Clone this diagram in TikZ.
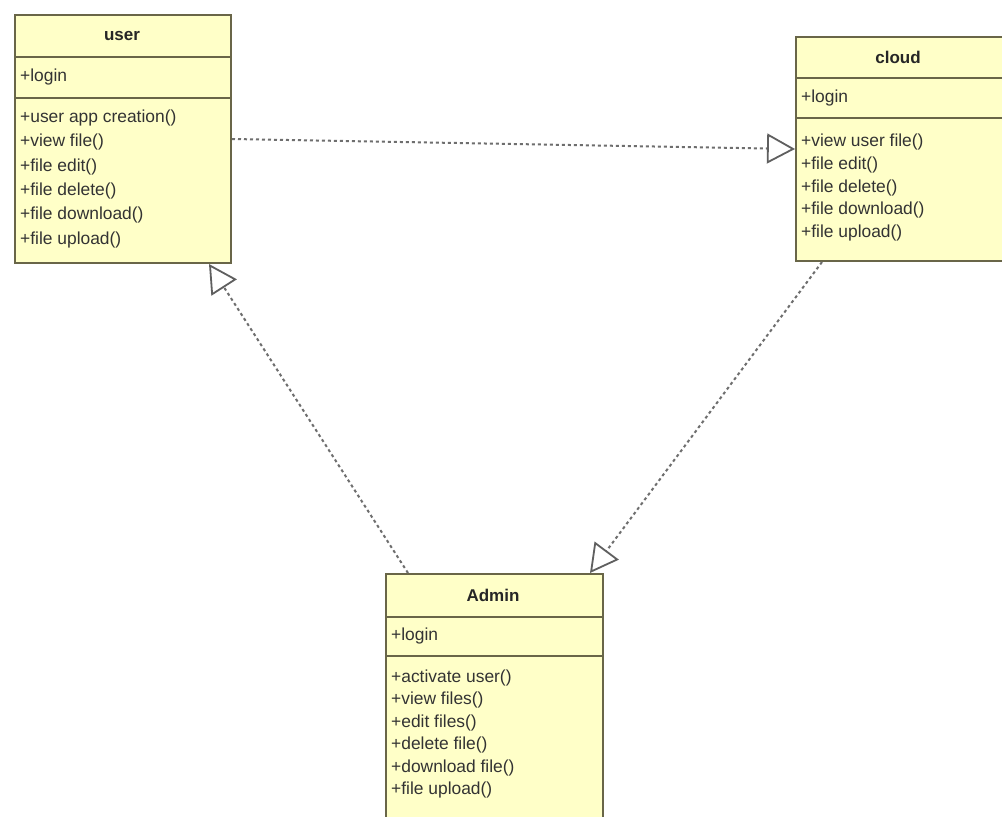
\documentclass[tikz,border=0pt]{standalone}
\usepackage{fontspec}
\setmainfont{Liberation Sans}
\usetikzlibrary{arrows.meta,calc}
\definecolor{classfill}{RGB}{255,255,200}
\definecolor{classline}{RGB}{105,102,72}
\definecolor{linkline}{RGB}{110,110,110}
\definecolor{tipline}{RGB}{95,95,95}
\begin{document}
\begin{tikzpicture}[x=1pt,y=-1pt,
  classbox/.style={draw=classline,fill=classfill,line width=2pt,rectangle,
    anchor=north west,inner sep=0pt},
  sep/.style={draw=classline,line width=2pt},
  title/.style={font=\fontsize{17}{20}\selectfont\bfseries,inner sep=0pt,text=black!85},
  member/.style={font=\fontsize{17.4}{20}\selectfont,inner sep=0pt,anchor=west,text=black!80},
  realize/.style={draw=linkline,line width=2pt,dash pattern=on 3pt off 3pt,
    -{Triangle[open,length=28pt,width=30pt,line width=1.8pt,color=tipline]}}]
  \useasboundingbox (0,0) rectangle (1002,817);
  \clip (0,0) rectangle (1002,817);
  \fill[white] (0,0) rectangle (1002,817);

  % class: user
  \node[classbox,minimum width=216pt,minimum height=248pt] (user) at (14,14) {};
  \draw[sep] ($(user.north west)+(0,43)$) -- ($(user.north east)+(0,43)$);
  \draw[sep] ($(user.north west)+(0,84)$) -- ($(user.north east)+(0,84)$);
  \node[title] (user-name) at (122,36) {user};
  \node[member] (user-attr) at (20,77) {+login};
  \foreach \txt [count=\i] in {+user app creation(),+view file(),+file edit(),
      +file delete(),+file download(),+file upload()}
    \node[member] (user-op\i) at (20,{118+24.3*(\i-1)}) {\txt};

  % class: cloud
  \node[classbox,minimum width=220pt,minimum height=224pt] (cloud) at (795,36) {};
  \draw[sep] ($(cloud.north west)+(0,42)$) -- ($(cloud.north east)+(0,42)$);
  \draw[sep] ($(cloud.north west)+(0,82)$) -- ($(cloud.north east)+(0,82)$);
  \node[title] (cloud-name) at (898,57) {cloud};
  \node[member] (cloud-attr) at (801,98) {+login};
  \foreach \txt [count=\i] in {+view user file(),+file edit(),+file delete(),
      +file download(),+file upload()}
    \node[member] (cloud-op\i) at (801,{142+22.8*(\i-1)}) {\txt};

  % class: Admin
  \node[classbox,minimum width=217pt,minimum height=270pt] (admin) at (385,573) {};
  \draw[sep] ($(admin.north west)+(0,44)$) -- ($(admin.north east)+(0,44)$);
  \draw[sep] ($(admin.north west)+(0,83)$) -- ($(admin.north east)+(0,83)$);
  \node[title] (admin-name) at (493,595) {Admin};
  \node[member] (admin-attr) at (391,636) {+login};
  \foreach \txt [count=\i] in {+activate user(),+view files(),+edit files(),
      +delete file(),+download file(),+file upload()}
    \node[member] (admin-op\i) at (391,{678+22.4*(\i-1)}) {\txt};

  % realization links
  \draw[realize] (user.east) -- (cloud.west);
  \draw[realize] ($(admin.north west)+(23,0)$) -- ($(user.south east)+(-23,0)$);
  \draw[realize] ($(cloud.south west)+(27,0)$) -- ($(admin.north east)+(-14,0)$);
\end{tikzpicture}
\end{document}
